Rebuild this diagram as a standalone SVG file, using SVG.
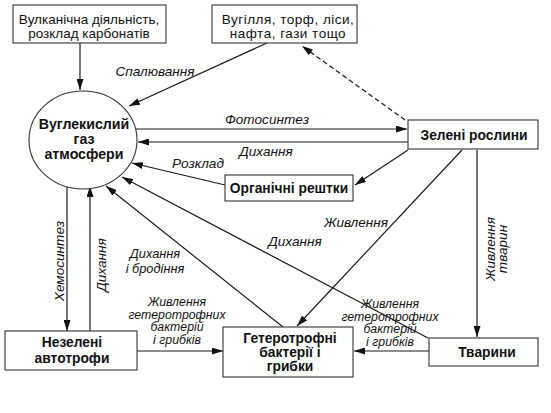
<svg xmlns="http://www.w3.org/2000/svg" width="551" height="413" viewBox="0 0 551 413">
<style>
.box{fill:#fff;stroke:#333;stroke-width:1.1}
.ln{fill:none;stroke:#1a1a1a;stroke-width:1.2;marker-end:url(#ah)}
.dash{stroke-dasharray:5,3}
.t{font-family:"Liberation Sans",Arial,sans-serif;font-size:13.5px;fill:#111;text-anchor:middle}
.b{font-family:"Liberation Sans",Arial,sans-serif;font-size:13.8px;font-weight:bold;fill:#111;text-anchor:middle}
.c{font-size:14.2px}
.i{font-family:"Liberation Sans",Arial,sans-serif;font-size:13.6px;font-style:italic;fill:#111;text-anchor:middle}
.m{font-size:12.3px}
.s{font-size:12.8px}
.w{letter-spacing:0.5px}
</style>
<defs>
<marker id="ah" markerUnits="userSpaceOnUse" markerWidth="11" markerHeight="7" refX="11" refY="3.5" orient="auto">
<path d="M0,0 L11,3.5 L0,7 z" fill="#111"/>
</marker>
</defs>
<rect width="551" height="413" fill="#fff"/>

<g id="connectors">
<line class="ln" x1="80" y1="43" x2="80" y2="90"/>
<line class="ln" x1="267" y1="43" x2="129" y2="106"/>
<text class="i" x="155" y="76">Спалювання</text>
<line class="ln dash" x1="405" y1="120" x2="302" y2="46"/>
<line class="ln" x1="136" y1="129" x2="407" y2="129"/>
<text class="i" x="267" y="124">Фотосинтез</text>
<line class="ln" x1="408" y1="142" x2="138" y2="142"/>
<text class="i" x="266" y="156">Дихання</text>
<line class="ln" x1="225" y1="185" x2="132" y2="163"/>
<text class="i" x="198" y="168">Розклад</text>
<line class="ln" x1="408" y1="150" x2="355" y2="185"/>
<line class="ln" x1="462" y1="150" x2="297" y2="326"/>
<text class="i" x="356" y="227">Живлення</text>
<line class="ln" x1="477" y1="150" x2="477" y2="337"/>
<text class="i" transform="translate(495,249) rotate(-90)" x="0" y="0">Живлення</text>
<text class="i" transform="translate(507,249) rotate(-90)" x="0" y="0">тварин</text>
<line class="ln" x1="428" y1="338" x2="122" y2="177"/>
<text class="i" x="295" y="246">Дихання</text>
<line class="ln" x1="283" y1="327" x2="106" y2="186"/>
<text class="i s" x="155" y="258">Дихання</text>
<text class="i s" x="155" y="272.5">і бродіння</text>
<line class="ln" x1="67" y1="187" x2="67" y2="331"/>
<text class="i" transform="translate(64,261) rotate(-90)" x="0" y="0">Хемосинтез</text>
<line class="ln" x1="90" y1="331" x2="90" y2="186"/>
<text class="i" transform="translate(106,265) rotate(-90)" x="0" y="0">Дихання</text>
<line class="ln" x1="137" y1="351" x2="223" y2="351"/>
<text class="i m" x="177" y="306">Живлення</text>
<text class="i m" x="177" y="318.5">гетеротрофних</text>
<text class="i m" x="177" y="331">бактерій</text>
<text class="i m" x="177" y="343.5">і грибків</text>
<line class="ln" x1="429" y1="351" x2="354" y2="351"/>
<text class="i m" x="390" y="308">Живлення</text>
<text class="i m" x="390" y="320.5">гетеротрофних</text>
<text class="i m" x="390" y="333">бактерій</text>
<text class="i m" x="390" y="345.5">і грибків</text>
</g>

<g id="volcanic">
<rect class="box" x="13" y="5" width="153" height="38"/>
<text class="t" x="89" y="24">Вулканічна діяльність,</text>
<text class="t" x="89" y="38">розклад карбонатів</text>
</g>
<g id="fossil">
<rect class="box" x="212" y="5" width="145" height="38"/>
<text class="t w" x="288" y="23.5">Вугілля, торф, ліси,</text>
<text class="t w" x="288" y="38">нафта, гази тощо</text>
</g>
<g id="co2">
<ellipse class="box" cx="83" cy="140" rx="54" ry="49"/>
<text class="b c" x="84" y="129">Вуглекислий</text>
<text class="b c" x="84" y="144">газ</text>
<text class="b c" x="84" y="159">атмосфери</text>
</g>
<g id="plants">
<rect class="box" x="408" y="120" width="130" height="29"/>
<text class="b" x="474" y="140">Зелені рослини</text>
</g>
<g id="remains">
<rect class="box" x="225" y="175" width="128" height="26"/>
<text class="b" x="289" y="193">Органічні рештки</text>
</g>
<g id="autotrophs">
<rect class="box" x="5" y="331" width="132" height="39"/>
<text class="b" x="72" y="347">Незелені</text>
<text class="b" x="72" y="363">автотрофи</text>
</g>
<g id="heterotrophs">
<rect class="box" x="223" y="327" width="130" height="50"/>
<text class="b" x="290" y="343">Гетеротрофні</text>
<text class="b" x="290" y="357">бактерії і</text>
<text class="b" x="290" y="371">грибки</text>
</g>
<g id="animals">
<rect class="box" x="429" y="338" width="109" height="28"/>
<text class="b" x="487" y="357">Тварини</text>
</g>
</svg>
